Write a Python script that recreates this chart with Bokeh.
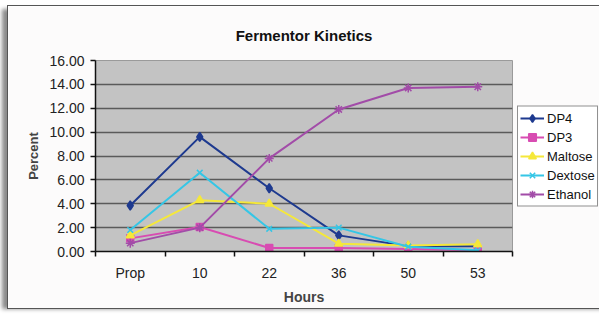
import numpy as np
from bokeh.plotting import figure
from bokeh.models import (Range1d, FixedTicker, NumeralTickFormatter, Legend, LegendItem)
from bokeh.embed import file_html
from bokeh.resources import INLINE

categories = ["Prop", "10", "22", "36", "50", "53"]
dp4 = [3.85, 9.6, 5.3, 1.35, 0.45, 0.45]
dp3 = [1.1, 2.05, 0.3, 0.3, 0.2, 0.1]
maltose = [1.35, 4.3, 4.0, 0.65, 0.5, 0.6]
dextose = [1.8, 6.6, 1.9, 2.0, 0.4, 0.1]
ethanol = [0.7, 2.0, 7.8, 11.9, 13.7, 13.8]
y_ticks = [0, 2, 4, 6, 8, 10, 12, 14, 16]

FONT = "Liberation Sans"

p = figure(frame_width=417, frame_height=191, output_backend="svg", toolbar_location=None,
           x_range=Range1d(0, len(categories)), y_range=Range1d(0, 16),
           min_border_left=87, min_border_right=0, min_border_top=54, min_border_bottom=57,
           title="Fermentor Kinetics")
p.background_fill_color = "#c3c3c3"
p.border_fill_color = "#fcfbfb"
p.outline_line_color = "#9a9a9a"
p.outline_line_width = 1
p.styles = {"outline": "1px solid #555555", "margin": "6px 0px 0px 8px",
            "box-shadow": "-7px 2px 4px -1px #8c8c8c"}

p.title.align = "center"
p.title.text_font = FONT
p.title.text_font_size = "15px"
p.title.text_font_style = "bold"
p.title.text_color = "#111111"
p.title.standoff = 34

xs = np.arange(len(categories)) + 0.5
xa = p.xaxis[0]
xa.ticker = FixedTicker(ticks=list(xs), minor_ticks=list(range(len(categories) + 1)))
xa.major_label_overrides = {float(x): c for x, c in zip(xs, categories)}
xa.major_tick_line_color = None
xa.major_tick_out = 5
xa.major_tick_in = 0
xa.minor_tick_out = 5
xa.minor_tick_in = 0
xa.minor_tick_line_color = "#111111"
xa.minor_tick_line_width = 1.5
xa.axis_line_color = "#111111"
xa.axis_line_width = 1.5
xa.major_label_text_font = FONT
xa.major_label_text_font_size = "14px"
xa.major_label_text_color = "#222222"
xa.major_label_standoff = 8
xa.axis_label = "Hours"
xa.axis_label_text_font = FONT
xa.axis_label_text_font_size = "14px"
xa.axis_label_text_font_style = "bold"
xa.axis_label_standoff = 5

ya = p.yaxis[0]
ya.ticker = FixedTicker(ticks=y_ticks)
ya.formatter = NumeralTickFormatter(format="0.00")
ya.minor_tick_line_color = None
ya.major_tick_out = 5
ya.major_tick_in = 0
ya.major_tick_line_color = "#111111"
ya.major_tick_line_width = 1.5
ya.axis_line_color = "#111111"
ya.axis_line_width = 1.5
ya.major_label_text_font = FONT
ya.major_label_text_font_size = "14px"
ya.major_label_text_color = "#222222"
ya.major_label_standoff = 6
ya.axis_label = "Percent"
ya.axis_label_text_font = FONT
ya.axis_label_text_font_size = "13px"
ya.axis_label_text_font_style = "bold"
ya.axis_label_standoff = 5

p.xgrid.grid_line_color = None
p.ygrid.grid_line_color = "#5a5a5a"
p.ygrid.grid_line_width = 1.5
p.ygrid.ticker = FixedTicker(ticks=y_ticks[1:-1])

series = [
    ("DP4", dp4, "#1e3a8f", "diamond", 9),
    ("DP3", dp3, "#d84cb2", "square", 7),
    ("Maltose", maltose, "#f5e83a", "triangle", 8),
    ("Dextose", dextose, "#35c6e6", "x", 8),
    ("Ethanol", ethanol, "#a24ca8", "asterisk", 9),
]
items = []
for name, vals, color, marker, size in series:
    r1 = p.line(xs, vals, line_color=color, line_width=2)
    r2 = p.scatter(xs, vals, marker=marker, size=size, fill_color=color,
                   line_color=color, line_width=1.5)
    items.append(LegendItem(label=name, renderers=[r1, r2]))

legend = Legend(items=items, location="left")
legend.label_text_font = FONT
legend.label_text_font_size = "13px"
legend.label_text_color = "#111111"
legend.border_line_color = "#222222"
legend.border_line_width = 1
legend.background_fill_color = "#ffffff"
legend.background_fill_alpha = 1
legend.padding = 2
legend.spacing = 0
legend.margin = 5
legend.glyph_height = 19
legend.label_height = 19
legend.glyph_width = 24
legend.label_standoff = 3
p.add_layout(legend, "right")

open("out.html", "w").write(file_html(p, INLINE))
